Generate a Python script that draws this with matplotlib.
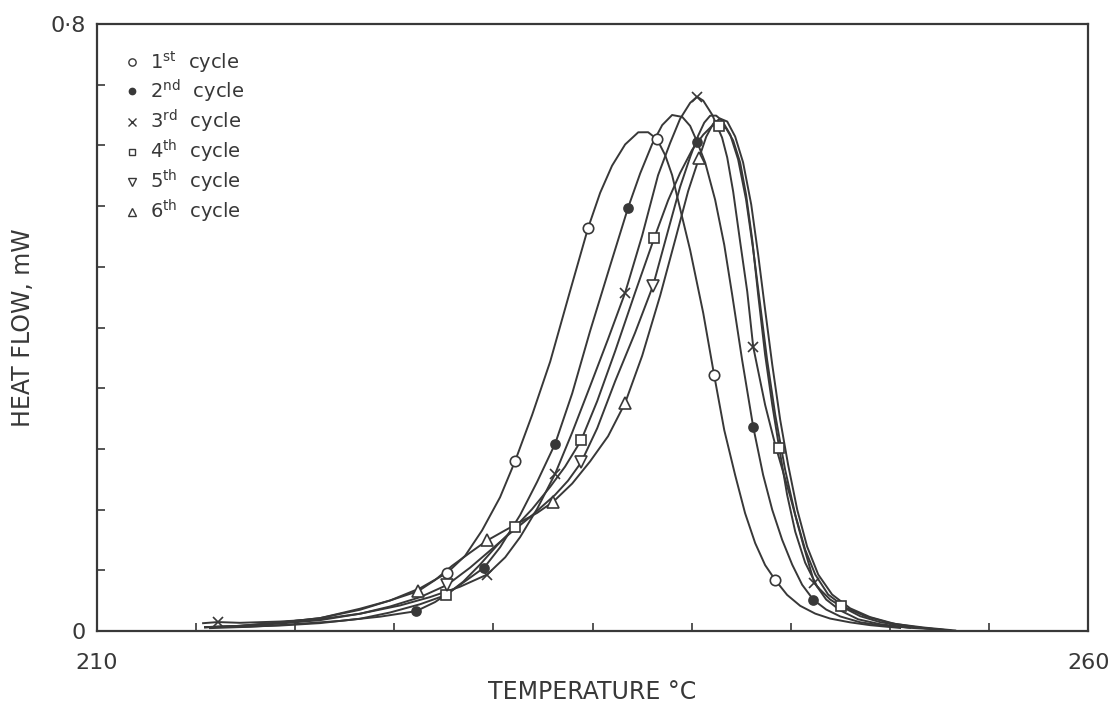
import matplotlib.pyplot as plt
from matplotlib.lines import Line2D

plt.rcParams['font.family'] = ['DejaVu Sans']
plt.rcParams['mathtext.default'] = 'regular'

INK = '#383838'

# DSC traces, temperature (deg C) / heat flow (mW), one per heating cycle
c1_t = [215.45, 217.21, 219.23, 221.25, 223.27, 224.78, 226.30, 227.66, 228.57, 229.42, 230.33,
        231.09, 231.95, 232.86, 233.86, 234.77, 235.38, 235.98, 236.64, 237.30, 237.80, 238.25,
        238.66, 239.01, 239.31, 239.92, 240.58, 241.13, 241.64, 242.19, 242.69, 243.20, 243.70,
        244.21, 244.81, 245.47, 246.23, 246.98, 247.99, 249.00, 250.51]
c1_hf = [0.005, 0.007, 0.0114, 0.0172, 0.0282, 0.0404, 0.0566, 0.0768, 0.0994, 0.1326, 0.1764,
         0.2241, 0.285, 0.3552, 0.4479, 0.5312, 0.5776, 0.6133, 0.6413, 0.6573, 0.6574, 0.6482,
         0.6272, 0.6009, 0.5679, 0.5020, 0.4191, 0.3374, 0.2649, 0.2056, 0.1555, 0.1160, 0.0871,
         0.0675, 0.0478, 0.0334, 0.0231, 0.0166, 0.0116, 0.0079, 0.0042]
c1_mt = [227.66, 231.09, 234.77, 238.25, 241.13, 244.21]
c1_mhf = [0.0768, 0.2241, 0.5312, 0.6482, 0.3374, 0.0675]

c2_t = [215.70, 217.72, 219.74, 222.26, 224.28, 226.09, 227.05, 227.81, 228.67, 229.53, 230.33,
        231.34, 232.20, 233.11, 233.97, 234.87, 235.88, 236.79, 237.40, 238.00, 238.51, 239.01,
        239.52, 239.92, 240.27, 240.68, 241.18, 241.64, 242.04, 242.54, 243.10, 243.60, 244.06,
        244.56, 245.07, 245.57, 246.13, 246.78, 247.49, 248.50, 249.50, 251.02]
c2_hf = [0.004, 0.0058, 0.0088, 0.0135, 0.0191, 0.0263, 0.0383, 0.0517, 0.0677, 0.0838, 0.1104,
         0.1529, 0.1967, 0.2470, 0.3133, 0.3952, 0.4813, 0.5581, 0.6032, 0.6416, 0.6668, 0.6801,
         0.6776, 0.6657, 0.6448, 0.6172, 0.5684, 0.5090, 0.4432, 0.3575, 0.2692, 0.2059, 0.1599,
         0.1204, 0.0875, 0.0611, 0.0415, 0.0285, 0.0194, 0.0117, 0.0079, 0.0044]
c2_mt = [226.09, 229.53, 233.11, 236.79, 240.27, 243.10, 246.13]
c2_mhf = [0.0263, 0.0838, 0.2470, 0.5581, 0.6448, 0.2692, 0.0415]

c3_t = [215.35, 216.10, 217.21, 219.23, 221.25, 223.27, 225.29, 226.80, 228.31, 229.68, 230.59,
        231.34, 232.20, 233.11, 233.97, 234.87, 235.78, 236.64, 237.50, 238.30, 238.91, 239.41,
        239.92, 240.27, 240.58, 241.03, 241.53, 241.79, 242.09, 242.44, 242.80, 243.10, 243.70,
        244.21, 244.97, 245.62, 246.18, 246.78, 247.49, 248.40, 249.50, 251.02, 252.53]
c3_hf = [0.0105, 0.0120, 0.0110, 0.0127, 0.0158, 0.0230, 0.0339, 0.0449, 0.0585, 0.0746, 0.0973,
         0.1238, 0.1611, 0.2074, 0.2618, 0.3226, 0.3850, 0.4459, 0.5213, 0.6007, 0.6432, 0.6749,
         0.6961, 0.7042, 0.6990, 0.6805, 0.6503, 0.6240, 0.5791, 0.5133, 0.4474, 0.3748, 0.2983,
         0.2457, 0.1772, 0.1141, 0.0640, 0.0417, 0.0273, 0.0156, 0.0092, 0.0044, 0.0021]
c3_mt = [216.10, 229.68, 233.11, 236.64, 240.27, 243.10, 246.18]
c3_mhf = [0.0120, 0.0746, 0.2074, 0.4459, 0.7042, 0.3748, 0.0640]

c4_t = [215.45, 217.21, 219.23, 221.25, 223.27, 224.78, 226.30, 227.61, 228.47, 229.32, 230.18,
        231.09, 231.95, 232.86, 233.61, 234.42, 235.23, 236.14, 237.14, 238.10, 238.81, 239.41,
        240.02, 240.58, 241.03, 241.38, 241.74, 242.09, 242.44, 242.74, 243.05, 243.35, 243.70,
        244.06, 244.41, 244.81, 245.22, 245.72, 246.33, 246.98, 247.54, 248.50, 249.50, 251.02,
        253.04]
c4_hf = [0.0053, 0.0057, 0.0074, 0.0106, 0.0164, 0.0246, 0.0355, 0.0477, 0.0651, 0.0877, 0.1130,
         0.1370, 0.1609, 0.1902, 0.2168, 0.2514, 0.3030, 0.3692, 0.4459, 0.5175, 0.5678, 0.6036,
         0.6342, 0.6541, 0.6660, 0.6675, 0.6623, 0.6465, 0.6176, 0.5753, 0.5160, 0.4434, 0.3644,
         0.2985, 0.2417, 0.1798, 0.1311, 0.0903, 0.0587, 0.0417, 0.0326, 0.0197, 0.0119, 0.0057,
         0.0009]
c4_mt = [227.61, 231.09, 234.42, 238.10, 241.38, 244.41, 247.54]
c4_mhf = [0.0477, 0.1370, 0.2514, 0.5175, 0.6660, 0.2417, 0.0326]

c5_t = [215.45, 217.21, 219.23, 221.25, 223.27, 224.78, 226.30, 227.66, 228.82, 229.83, 230.84,
        231.85, 233.11, 233.76, 234.42, 235.23, 236.14, 237.14, 238.05, 238.81, 239.41, 239.92,
        240.32, 240.63, 240.93, 241.23, 241.53, 241.94, 242.34, 242.74, 243.10, 243.45, 243.80,
        244.21, 244.71, 245.22, 245.72, 246.23, 246.88, 247.74, 248.75, 250.01, 251.52, 253.04]
c5_hf = [0.0053, 0.0070, 0.0100, 0.0145, 0.0230, 0.0325, 0.0448, 0.0609, 0.0837, 0.1063, 0.1290,
         0.1504, 0.1797, 0.1983, 0.2223, 0.2673, 0.3296, 0.3931, 0.4554, 0.5282, 0.5851, 0.6248,
         0.6527, 0.6700, 0.6792, 0.6793, 0.6727, 0.6544, 0.6215, 0.5687, 0.5028, 0.4304, 0.3578,
         0.2853, 0.2128, 0.1535, 0.1075, 0.0746, 0.0483, 0.0313, 0.0197, 0.0107, 0.0045, 0.0009]
c5_mt = [227.66, 234.42, 238.05]
c5_mhf = [0.0609, 0.2223, 0.4554]

c6_t = [215.45, 217.21, 219.23, 221.25, 223.27, 224.78, 226.20, 227.05, 227.91, 228.82, 229.68,
        230.59, 231.34, 232.20, 233.01, 233.97, 234.87, 235.78, 236.64, 237.50, 238.41, 239.16,
        239.82, 240.37, 240.73, 241.08, 241.43, 241.79, 242.19, 242.59, 243.00, 243.35, 243.70,
        244.06, 244.46, 244.86, 245.32, 245.82, 246.38, 247.08, 247.99, 249.00, 250.26, 251.78,
        253.29]
c6_hf = [0.0053, 0.0070, 0.0114, 0.0172, 0.0296, 0.0404, 0.0527, 0.0673, 0.0861, 0.1035, 0.1195,
         0.1329, 0.1436, 0.1558, 0.1704, 0.1945, 0.2236, 0.2569, 0.3007, 0.3629, 0.4424, 0.5151,
         0.5799, 0.6236, 0.6515, 0.6686, 0.6754, 0.6715, 0.6517, 0.6176, 0.5622, 0.4962, 0.4238,
         0.3513, 0.2787, 0.2194, 0.1601, 0.1114, 0.0746, 0.0483, 0.0301, 0.0185, 0.0095, 0.0046,
         0.0009]
c6_mt = [226.20, 229.68, 233.01, 236.64, 240.37]
c6_mhf = [0.0527, 0.1195, 0.1704, 0.3007, 0.6236]

labels = ['1$^{st}$  cycle', '2$^{nd}$  cycle', '3$^{rd}$  cycle',
          '4$^{th}$  cycle', '5$^{th}$  cycle', '6$^{th}$  cycle']

cycles = [
    (c1_t, c1_hf, c1_mt, c1_mhf, 'o', 'white', 7.5),
    (c2_t, c2_hf, c2_mt, c2_mhf, 'o', INK, 6.5),
    (c3_t, c3_hf, c3_mt, c3_mhf, 'x', 'none', 7.5),
    (c4_t, c4_hf, c4_mt, c4_mhf, 's', 'white', 7.0),
    (c5_t, c5_hf, c5_mt, c5_mhf, 'v', 'white', 8.0),
    (c6_t, c6_hf, c6_mt, c6_mhf, '^', 'white', 8.0),
]

fig = plt.figure(figsize=(11.15, 7.06), dpi=100)
ax = fig.add_axes([0.087, 0.106, 0.889, 0.86])

handles = []
for t, hf, mt, mhf, mk, fc, ms in cycles:
    ax.plot(t, hf, color=INK, lw=1.4, solid_joinstyle='round', zorder=2)
    ax.plot(mt, mhf, ls='none', marker=mk, ms=ms, mfc=fc, mec=INK, mew=1.2, zorder=3)
    handles.append(Line2D([], [], ls='none', marker=mk, ms=ms * 0.7, mfc=fc, mec=INK, mew=1.0))

ax.set_xlim(210, 260)
ax.set_ylim(0, 0.8)

xt = [210, 215, 220, 225, 230, 235, 240, 245, 250, 255, 260]
ax.set_xticks(xt)
ax.set_xticklabels(['210'] + [''] * 9 + ['260'])
yt = [0, 0.08, 0.16, 0.24, 0.32, 0.40, 0.48, 0.56, 0.64, 0.72, 0.8]
ax.set_yticks(yt)
ax.set_yticklabels(['0'] + [''] * 9 + ['0·8'])

ax.tick_params(direction='in', length=6, width=1.2, color=INK, labelcolor=INK, labelsize=16)
ax.tick_params(axis='x', pad=16)
ax.tick_params(axis='y', pad=8)
for s in ax.spines.values():
    s.set_color(INK)
    s.set_linewidth(1.6)

ax.set_xlabel('TEMPERATURE °C', fontsize=17, color=INK)
ax.set_ylabel('HEAT FLOW, mW', fontsize=17, color=INK)
ax.xaxis.set_label_coords(0.5, -0.08)
ax.yaxis.set_label_coords(-0.063, 0.5)

ax.legend(handles, labels, loc='upper left', bbox_to_anchor=(0.018, 0.972), frameon=False,
          fontsize=14, labelspacing=0.15, handlelength=1.0, handletextpad=0.4,
          borderaxespad=0, labelcolor=INK)

fig.savefig('out.png', dpi=100)
